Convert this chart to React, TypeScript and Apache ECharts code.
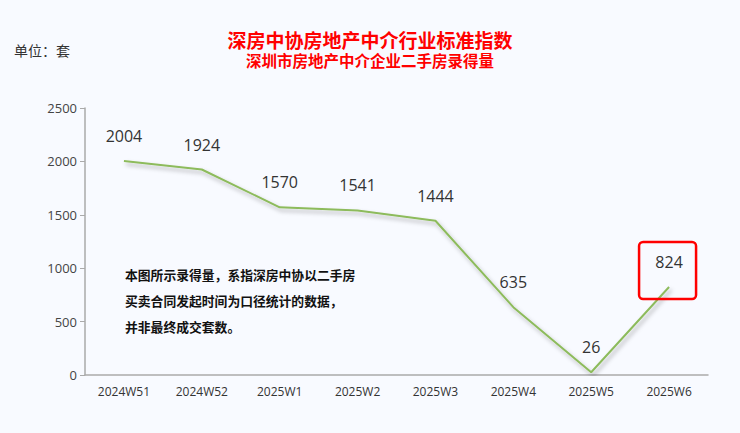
import React, { useEffect, useRef } from "react";
import * as echarts from "echarts";

const categories = ["2024W51", "2024W52", "2025W1", "2025W2", "2025W3", "2025W4", "2025W5", "2025W6"];
const values = [2004, 1924, 1570, 1541, 1444, 635, 26, 824];
const yTicks = [0, 500, 1000, 1500, 2000, 2500];
const titleText = "深房中协房地产中介行业标准指数";
const subtitleText = "深圳市房地产中介企业二手房录得量";
const unitText = "单位：套";
const noteLines = [
  "本图所示录得量，系指深房中协以二手房",
  "买卖合同发起时间为口径统计的数据，",
  "并非最终成交套数。",
];

const CJK = '"Noto Sans CJK SC", "Microsoft YaHei", sans-serif';
const NUM = '"Open Sans", "Noto Sans", sans-serif';

export default function App() {
  const ref = useRef<HTMLDivElement>(null);
  useEffect(() => {
    if (!ref.current) return;
    const chart = echarts.init(ref.current, null, { renderer: "svg" });
    chart.setOption({
      animation: false,
      backgroundColor: "#F8FAFF",
      title: [
        {
          text: titleText,
          left: "center",
          top: 30,
          padding: 0,
          textStyle: { color: "#FF0000", fontSize: 19, fontWeight: "bold", fontFamily: CJK, lineHeight: 19 },
        },
        {
          text: subtitleText,
          left: "center",
          top: 52,
          padding: 0,
          textStyle: { color: "#FF0000", fontSize: 15.5, fontWeight: "bold", fontFamily: CJK, lineHeight: 16 },
        },
      ],
      grid: { left: 85, right: 32, top: 108, bottom: 58 },
      xAxis: {
        type: "category",
        data: categories,
        axisLine: { lineStyle: { color: "#AAAAAA", width: 1.5 } },
        axisTick: { lineStyle: { color: "#AAAAAA" }, length: 5 },
        axisLabel: { color: "#333", fontSize: 12, fontFamily: NUM, margin: 10 },
      },
      yAxis: {
        type: "value",
        min: yTicks[0],
        max: yTicks[yTicks.length - 1],
        interval: 500,
        axisLine: { show: true, lineStyle: { color: "#AAAAAA", width: 1.5 } },
        axisTick: { show: true, lineStyle: { color: "#AAAAAA" }, length: 5 },
        splitLine: { show: false },
        axisLabel: { color: "#444", fontSize: 13, fontFamily: NUM, margin: 8, formatter: (v: number) => String(v) },
      },
      series: [
        {
          type: "line",
          data: values,
          showSymbol: true,
          symbol: "circle",
          symbolSize: 2,
          itemStyle: { color: "rgba(0,0,0,0)", borderWidth: 0 },
          lineStyle: {
            color: "#8DBB5C",
            width: 2,
            shadowColor: "rgba(0,0,0,0.3)",
            shadowBlur: 4,
            shadowOffsetX: 2,
            shadowOffsetY: 3,
          },
          label: {
            show: true,
            position: "top",
            distance: 16,
            color: "#333",
            fontSize: 16,
            fontFamily: NUM,
          },
          labelLayout: { hideOverlap: false },
        },
      ],
      graphic: [
        {
          type: "text",
          left: 14,
          top: 43,
          style: { text: unitText, fill: "#333", fontSize: 14, fontFamily: CJK },
        },
        {
          type: "text",
          left: 125,
          top: 261,
          style: {
            text: noteLines.join("\n"),
            fill: "#111",
            fontSize: 12.8,
            lineHeight: 26,
            fontWeight: "bold",
            fontFamily: CJK,
          },
        },
      ],
    });
    const last = values.length - 1;
    const p = chart.convertToPixel({ seriesIndex: 0 }, [last, values[last]]) as number[];
    chart.setOption({
      graphic: [
        {},
        {},
        {
          type: "rect",
          shape: { x: p[0] - 30, y: p[1] - 45, width: 57, height: 57, r: 4 },
          style: { fill: "none", stroke: "#FF0000", lineWidth: 2.5 },
          z: 10,
        },
      ],
    });
    return () => chart.dispose();
  }, []);
  return <div ref={ref} style={{ position: "fixed", left: 0, top: 0, width: 740, height: 433 }} />;
}
